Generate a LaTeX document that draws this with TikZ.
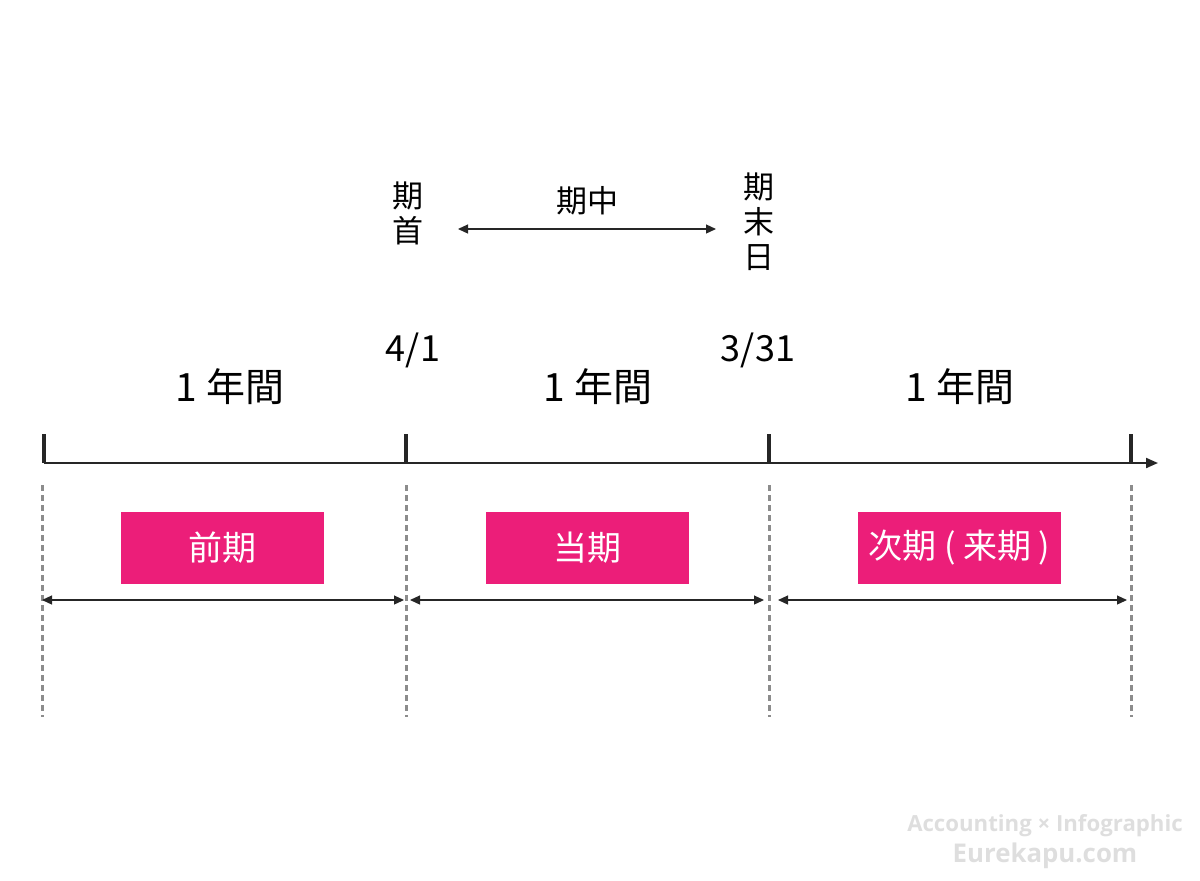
\documentclass[tikz,border=0pt]{standalone}
\usepackage{fontspec}
\setmainfont{Noto Sans CJK JP}
\newfontfamily\wmfont{Open Sans}
\usetikzlibrary{positioning, arrows.meta}
\definecolor{kipink}{HTML}{EC1E79}

\begin{document}
\begin{tikzpicture}[
    x=0.5pt, y=-0.5pt,
    tick/.style={line width=1.6pt, draw=black!85},
    guide/.style={draw=black!45, line width=1.5pt, dash pattern=on 3pt off 2pt},
    period/.style={fill=kipink, text=white, minimum width=101.5pt, minimum height=36pt, inner sep=0pt, font=\fontsize{17}{20}\selectfont},
    span/.style={{Triangle[length=5pt, width=4.5pt]}-{Triangle[length=5pt, width=4.5pt]}, line width=0.6pt, draw=black!85},
    lbl/.style={font=\fontsize{19.5}{22}\selectfont},
    date/.style={font=\fontsize{18}{20}\selectfont},
    term/.style={font=\fontsize{15.5}{17.5}\selectfont, align=center, inner sep=0pt},
    wm/.style={text=black!13, font=\wmfont\bfseries}
]
\useasboundingbox (0,0) rectangle (1200,880);

% top: beginning / middle / end of the term
\node[term] (start) at (408,213) {期\\首};
\node[term] (fin) at (759,222) {期\\末\\日};
\node[term] (mid) at (587,201) {期中};
\coordinate (midl) at (458,229);
\coordinate (midr) at (716,229);
\draw[span] (midl) -- (midr);

% dates and year labels
\node[date] (apr) at (413,350) {4/1};
\node[date] (mar) at (758,350) {3/31};
\node[lbl] (y1) at (230,387) {1 年間};
\node[lbl] (y2) at (598,387) {1 年間};
\node[lbl] (y3) at (960,387) {1 年間};

% timeline
\coordinate (t0) at (44,463);
\coordinate (t1) at (406,463);
\coordinate (t2) at (769,463);
\coordinate (t3) at (1131,463);
\coordinate (tend) at (1158,463);
\draw[line width=1pt, draw=black!85, -{Triangle[length=6pt, width=5pt]}] (t0) -- (tend);
\foreach \n in {0,1,2,3}
    \draw[tick] (t\n) -- ++(0,-29);

% guides
\foreach \x in {42,406,769,1131}
    \draw[guide] (\x,485) -- (\x,717);

% periods
\node[period] (prev) at (222.5,548) {前期};
\node[period] (cur) at (587.5,548) {当期};
\node[period] (next) at (959.5,548) {次期 ( 来期 )};

\coordinate (s0) at (42,600);
\coordinate (s1) at (404,600);
\coordinate (s2) at (410,600);
\coordinate (s3) at (764,600);
\coordinate (s4) at (778,600);
\coordinate (s5) at (1127,600);
\draw[span] (s0) -- (s1);
\draw[span] (s2) -- (s3);
\draw[span] (s4) -- (s5);

% watermark
\node[wm, font=\wmfont\bfseries\fontsize{11.1}{13}\selectfont] (wm1) at (1045,826) {Accounting × Infographic};
\node[wm, font=\wmfont\bfseries\fontsize{12.9}{15}\selectfont] (wm2) at (1045,856) {Eurekapu.com};
\end{tikzpicture}
\end{document}
